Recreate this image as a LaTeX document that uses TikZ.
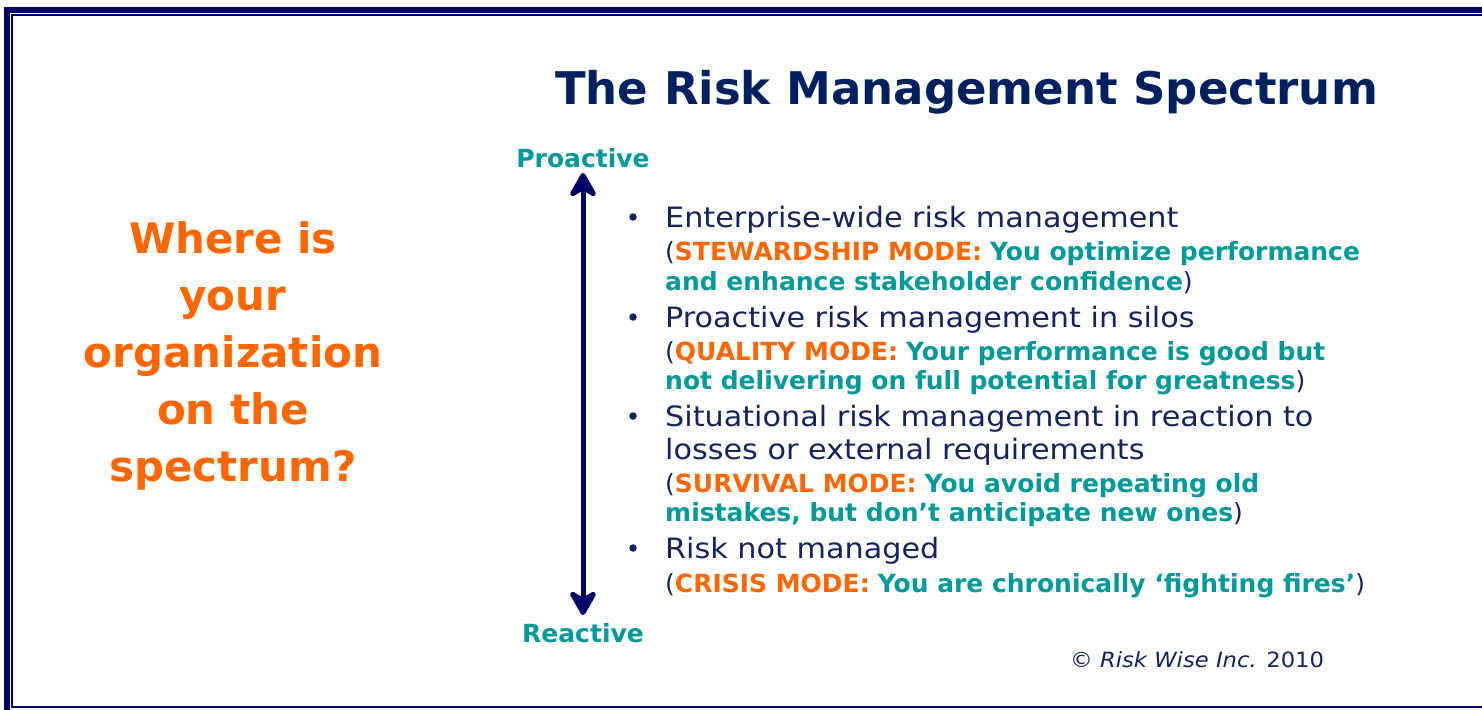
\documentclass[tikz,border=0pt]{standalone}
\usepackage{fontspec}
\setmainfont{DejaVu Sans}
\newfontfamily\widefont[FakeStretch=1.08]{DejaVu Sans}
\usetikzlibrary{arrows.meta}

\definecolor{framenavy}{HTML}{000066}
\definecolor{titlenavy}{HTML}{002060}
\definecolor{textnavy}{HTML}{14235F}
\definecolor{modeorange}{HTML}{FF6600}
\definecolor{modeteal}{HTML}{009999}

\newcommand{\modename}[1]{\textcolor{modeorange}{\bfseries #1}}
\newcommand{\modetext}[1]{\textcolor{modeteal}{\bfseries #1}}

\tikzset{spectrum tip/.tip={Stealth[length=30pt,width=34pt,inset=10pt,round]}}

\begin{document}
\begin{tikzpicture}[
    x=1pt, y=-1pt,
    every node/.style={inner sep=0pt, anchor=base west},
    title/.style={font=\fontsize{45}{52}\selectfont\bfseries, text=titlenavy},
    question/.style={anchor=base, font=\fontsize{42}{50}\selectfont\bfseries, text=modeorange},
    pole/.style={anchor=base, font=\fontsize{25}{30}\selectfont\bfseries, text=modeteal},
    item/.style={font=\widefont\fontsize{28}{32}\selectfont, text=textnavy},
    note/.style={font=\fontsize{25}{29}\selectfont, text=textnavy},
    bullet/.style={anchor=center, circle, fill=textnavy, minimum size=7.5pt},
    credit/.style={font=\widefont\fontsize{21}{24}\selectfont, text=textnavy},
    spectrum/.style={draw=framenavy, line width=5pt, spectrum tip-spectrum tip}
]
\clip (0,0) rectangle (1482,709);
\useasboundingbox (0,0) rectangle (1482,709);

% frame
\draw[framenavy, line width=6pt] (7,10) rectangle (1500,730);
\draw[framenavy, line width=2pt] (12.3,15) rectangle (1490,707);

\node[title] (title) at (555,104) {The Risk Management Spectrum};

% left question
\node[question] (q1) at (233,253) {Where is};
\node[question] (q2) at (233,310) {your};
\node[question] (q3) at (233,367) {organization};
\node[question] (q4) at (233,424) {on the};
\node[question] (q5) at (233,481) {spectrum?};

% the spectrum arrow
\node[pole] (pro) at (583,167) {Proactive};
\node[pole] (rea) at (583,642) {Reactive};
\coordinate (arrtop) at (583,173);
\coordinate (arrbot) at (583,615);
\draw[spectrum] (arrtop) -- (arrbot);

% stewardship
\node[bullet] (b1) at (633,217) {};
\node[item] (s1) at (665,227) {Enterprise-wide risk management};
\node[note] (s2) at (665,260) {(\modename{STEWARDSHIP MODE:} \modetext{You optimize performance}};
\node[note] (s3) at (665,290) {\modetext{and enhance stakeholder confidence})};

% quality
\node[bullet] (b2) at (633,317) {};
\node[item] (u1) at (665,327) {Proactive risk management in silos};
\node[note] (u2) at (665,360) {(\modename{QUALITY MODE:} \modetext{Your performance is good but}};
\node[note] (u3) at (665,389) {\modetext{not delivering on full potential for greatness})};

% survival
\node[bullet] (b3) at (633,416) {};
\node[item] (v1) at (665,426) {Situational risk management in reaction to};
\node[item] (v2) at (665,459) {losses or external requirements};
\node[note] (v3) at (665,492) {(\modename{SURVIVAL MODE:} \modetext{You avoid repeating old}};
\node[note] (v4) at (665,521) {\modetext{mistakes, but don’t anticipate new ones})};

% crisis
\node[bullet] (b4) at (633,548) {};
\node[item] (c1) at (665,558) {Risk not managed};
\node[note] (c2) at (665,592) {(\modename{CRISIS MODE:} \modetext{You are chronically ‘fighting fires’})};

\node[credit] (copy) at (1070,667) {© \textit{Risk Wise Inc.} 2010};
\end{tikzpicture}
\end{document}
